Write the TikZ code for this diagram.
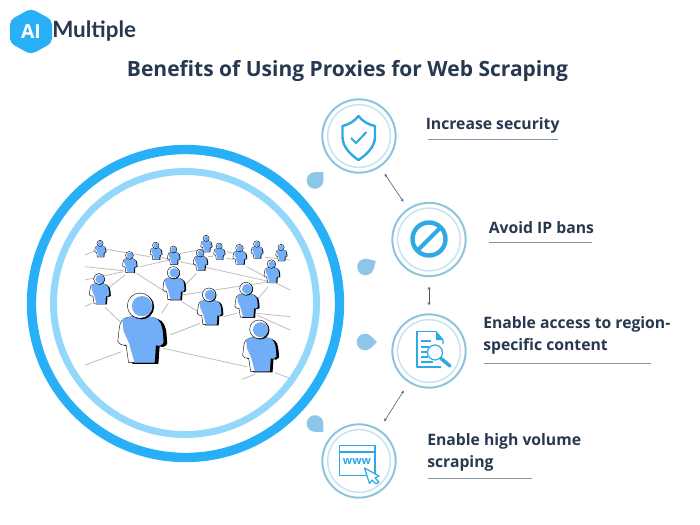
\documentclass[tikz,border=0pt]{standalone}
\usepackage{fontspec}
\setmainfont{Open Sans}
\newfontfamily\logofont{Lato}
\usetikzlibrary{arrows.meta}
\definecolor{ink}{HTML}{27384F}
\definecolor{iconblue}{HTML}{2FA9E6}
\definecolor{bigring}{HTML}{27B0F8}
\definecolor{midring}{HTML}{93D8FB}
\definecolor{ringA}{HTML}{8FC4DE}
\definecolor{ringB}{HTML}{C6E3F0}
\definecolor{dropc}{HTML}{8DC6E8}
\definecolor{personc}{HTML}{72AEF8}
\definecolor{netgrey}{HTML}{BDBDBD}
\tikzset{
  ringouter/.style={circle,draw=ringA,line width=1.5pt,minimum size=55pt,inner sep=0pt},
  ringinner/.style={circle,draw=ringB,line width=1.1pt,minimum size=47pt,inner sep=0pt},
  label/.style={anchor=west,inner sep=0pt,text=ink,font=\fontsize{11.8}{14}\selectfont\bfseries},
  rule/.style={draw=ink!55,line width=0.6pt},
  link/.style={draw=ink!80,line width=0.45pt,{Stealth[length=2.4pt,width=2.2pt]}-{Stealth[length=2.4pt,width=2.2pt]}},
  icon/.style={draw=iconblue,line width=1.5pt,line join=round},
  iconthin/.style={draw=iconblue,line width=0.9pt,line join=round},
  net/.style={draw=netgrey,line width=0.6pt},
}
\def\bodypath{(-1.1,0.95) .. controls (-0.5,0.8) and (0.5,0.8) .. (1.1,0.95) .. controls (1.6,1.1) and (1.75,1.6) .. (1.8,2.2) -- (1.85,2.9) .. controls (1.7,3.2) and (1.4,3.2) .. (1.25,3.1) -- (1.15,4.5) -- (-0.9,4.5) -- (-1.1,3.1) .. controls (-1.4,3.2) and (-1.65,3.0) .. (-1.75,2.8) -- (-1.65,1.9) .. controls (-1.6,1.3) and (-1.4,1.05) .. (-1.1,0.95) -- cycle}
\newcommand\person[3]{%
  \pgfmathsetmacro\prr{#3*0.25}%
  \begin{scope}[shift={(#1,#2)},x=\prr pt,y=-\prr pt]
    \fill[black,xshift=\prr*0.3pt,yshift=-\prr*0.1pt] \bodypath;
    \filldraw[fill=white,draw=black,line width=0.3pt] \bodypath;
    \begin{scope}
      \clip \bodypath;
      \fill[personc] (-1.45,0.5) -- (3,0.5) -- (3,5) -- (-0.3,5) -- (-0.85,3) -- (-1.3,2) -- cycle;
    \end{scope}
    \fill[black] (0.12,0.08) circle (1);
    \filldraw[fill=white,draw=black,line width=0.3pt] (0,0) circle (1);
    \fill[personc] (0.16,0.04) circle (0.8);
  \end{scope}}
\newcommand\dropmark[3]{%
  \begin{scope}[shift={(#1,#2)},rotate=#3]
    \fill[dropc] (0,0) circle (8.3);
    \fill[dropc] (5.87,5.87) -- (11.9,0) -- (5.87,-5.87) -- (0,0) -- cycle;
  \end{scope}}
\begin{document}
\begin{tikzpicture}[x=0.75pt,y=-0.75pt]
\useasboundingbox (0,0) rectangle (700,525);
\fill[white] (0,0) rectangle (700,525);
% logo
\fill[bigring,rounded corners=3.5pt] (31,8.5) -- (52,20) -- (52,43) -- (31,54.5) -- (10,43) -- (10,20) -- cycle;
\node[inner sep=0pt,text=white,font=\fontsize{14.5}{18}\selectfont\bfseries] (logoai) at (31,31.5) {AI};
\node[anchor=west,inner sep=0pt,text=ink,font=\logofont\fontsize{16.8}{18}\selectfont\bfseries] (logotext) at (52,31.5) {Multiple};
% title
\node[inner sep=0pt,text=ink,font=\fontsize{15.75}{18}\selectfont\bfseries] (title) at (347.5,70.5) {Benefits of Using Proxies for Web Scraping};
% big rings
\draw[bigring,line width=7pt] (185.5,303.5) circle (154);
\draw[midring,line width=5.2pt] (185,303) circle (131.5);
% network
\begin{scope}[shift={(70,220)},x=0.25pt,y=-0.25pt]
\foreach \a/\b/\c/\d in {45/105/75/92,110/88/240/110,45/140/160/152,45/180/160/155,120/200/165/165,45/260/65/250,105/262/150/305,200/160/285/215,210/140/300/120,330/100/400/88,330/125/600/185,270/110/300/120,345/195/380/160,275/280/295/250,335/245/385/275,335/225/600/185,300/345/390/310,45/435/155/395,280/385/530/440,515/478/555/463,615/458/660/475,560/280/660/290,560/285/660/330,460/290/500/280,565/235/595/200,620/190/660/210,530/140/590/172,470/95/490/100,585/112/660/120,470/115/490/118,415/110/430/110}
  \draw[net] (\a,\b) -- (\c,\d);
\person{90}{70}{9}
\person{257}{76}{9.5}
\person{408}{55}{9}
\person{447}{78}{9}
\person{560}{72}{9.5}
\person{633}{82}{9}
\person{310}{88}{10}
\person{508}{84}{11}
\person{178}{106}{11.5}
\person{390}{99}{11.5}
\person{604}{132}{12.5}
\person{310}{158}{18}
\person{87}{177}{16.5}
\person{528}{206}{19}
\person{417}{224}{20}
\person{210}{257}{38}
\person{567}{328}{28}
\end{scope}
% drops
\dropmark{315}{180.5}{45}
\dropmark{365.5}{267}{30}
\dropmark{365}{342}{0}
\dropmark{315}{423.5}{-45}
% rings
\node[ringouter] (c1) at (359,136) {};
\node[ringinner] at (c1.center) (c1i) {};
\node[ringouter] (c2) at (429,239.5) {};
\node[ringinner] at (c2.center) (c2i) {};
\node[ringouter] (c3) at (429,351) {};
\node[ringinner] at (c3.center) (c3i) {};
\node[ringouter] (c4) at (359,461) {};
\node[ringinner] at (c4.center) (c4i) {};
\draw[link,shorten <=6pt,shorten >=6pt] (c1) -- (c2);
\draw[link,shorten <=7pt,shorten >=6pt] (c2) -- (c3);
\draw[link,shorten <=7pt,shorten >=7pt] (c3) -- (c4);
% shield
\draw[icon,line width=1.8pt] (358.5,116) .. controls (362,121) and (369,125) .. (375,126) -- (375,137) .. controls (375,147) and (366,155) .. (358.5,160) .. controls (351,155) and (342.5,147) .. (342.5,137) -- (342.5,126) .. controls (348,125) and (355,121) .. (358.5,116) -- cycle;
\draw[icon] (351,138) -- (356,143) -- (366.5,132);
% no sign
\draw[icon,line width=3.3pt] (429,239) circle (16.5);
\draw[icon,line width=3pt] (417.5,250.5) -- (440.5,227.5);
% document
\draw[iconthin] (436,331.5) -- (417,331.5) -- (417,367) -- (441,367);
\draw[iconthin] (436,331.5) -- (443,340) -- (443,344);
\fill[iconblue] (436,331.5) -- (443,340) -- (436,340) -- cycle;
\draw[iconthin] (421,341) -- (431,341) (421,347) -- (429,347) (421,352) -- (427,352) (421,357) -- (428,357) (421,362) -- (433,362);
\filldraw[iconthin,fill=white] (435,352.5) circle (7.5);
\draw[iconblue,line width=2.6pt,line cap=round] (441,358.5) -- (450,366);
% www
\draw[iconthin] (339.5,445.5) rectangle (375,475.5);
\draw[iconthin] (339.5,452) -- (375,452);
\node[inner sep=0pt,text=iconblue,font=\fontsize{8.2}{10}\selectfont\bfseries] (www) at (357,462) {www};
\filldraw[iconthin,fill=white] (364.5,468) -- (379,476) -- (375,478) -- (379,482) -- (376,484) -- (372,480) -- (369.5,483.5) -- cycle;
% labels
\node[label] (l1) at (425.5,125.5) {Increase security};
\draw[rule] (428,139) -- (558,139);
\node[label] (l2) at (488.5,227.5) {Avoid IP bans};
\draw[rule] (488.5,242) -- (592,242);
\node[label] (l3a) at (483,324.5) {Enable access to region-};
\node[label] (l3b) at (483,346.5) {specific content};
\draw[rule] (484,363) -- (651,363);
\node[label] (l4a) at (427,441.5) {Enable high volume};
\node[label] (l4b) at (427,463.5) {scraping};
\draw[rule] (428,478) -- (532,478);
\end{tikzpicture}
\end{document}
